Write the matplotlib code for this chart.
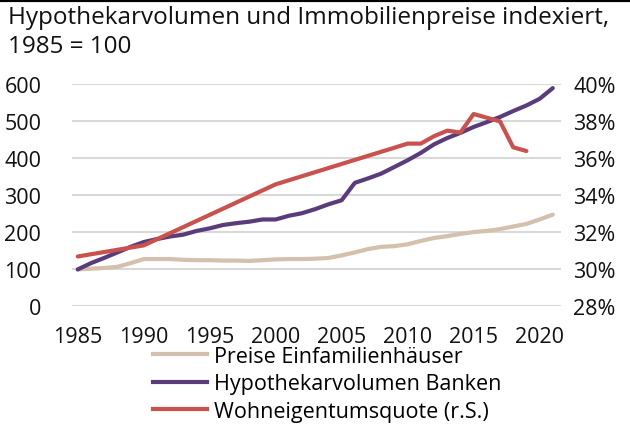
import matplotlib.pyplot as plt
from matplotlib.lines import Line2D

plt.rcParams['font.family'] = ['Open Sans', 'DejaVu Sans']

# Daten
jahre = list(range(1985, 2022))
preise = [100, 102, 104, 107, 117, 128, 128, 128, 126, 125, 125, 124, 124, 123, 125,
          127, 128, 128, 129, 131, 138, 146, 155, 161, 163, 168, 177, 185, 190, 196,
          201, 204, 209, 216, 223, 235, 248]
hypothek = [100, 117, 131, 146, 161, 174, 182, 189, 194, 204, 211, 220, 225, 229, 235,
            235, 245, 252, 263, 276, 287, 334, 346, 359, 377, 395, 415, 438, 455, 469,
            485, 498, 512, 528, 543, 561, 590]
quote_jahre = [1985, 1990, 2000, 2010, 2011, 2012, 2013, 2014, 2015, 2017, 2018, 2019]
quote = [30.7, 31.3, 34.6, 36.8, 36.8, 37.2, 37.5, 37.4, 38.4, 38.0, 36.6, 36.4]

labels = ['Preise Einfamilienhäuser', 'Hypothekarvolumen Banken', 'Wohneigentumsquote (r.S.)']
farben = ['#d3c1ad', '#5a3c7a', '#c9524e']

fig = plt.figure(figsize=(6.3, 4.27), dpi=100)
ax = fig.add_axes([0.114, 0.28, 0.776, 0.52])
ax2 = ax.twinx()

ax.plot(jahre, preise, color=farben[0], lw=3, solid_capstyle='round')
ax.plot(jahre, hypothek, color=farben[1], lw=3, solid_capstyle='round')
ax2.plot(quote_jahre, quote, color=farben[2], lw=3, solid_capstyle='round')

ax.set_xlim(1984.55, 2021.6)
ax.set_ylim(0, 600)
ax2.set_ylim(28, 40)
ax.set_yticks(range(0, 601, 100))
ax2.set_yticks(range(28, 41, 2))
ax2.set_yticklabels([f'{v}%' for v in range(28, 41, 2)])
ax.set_xticks(range(1985, 2021, 5))

ax.grid(axis='y', color='#d9d9d9', lw=1.5)
ax.set_axisbelow(True)
for a in (ax, ax2):
    for s in a.spines.values():
        s.set_visible(False)
    a.tick_params(length=0, labelsize=15.5, colors='#111111')
ax.tick_params(axis='y', pad=22)
ax.tick_params(axis='x', pad=14)
ax2.tick_params(axis='y', pad=9)

fig.text(0.012, 0.985, 'Hypothekarvolumen und Immobilienpreise indexiert,\n1985 = 100',
         fontsize=17.5, va='top', ha='left', color='#111111', linespacing=1.25)
fig.add_artist(Line2D([0, 1], [0.997, 0.997], color='black', lw=3, transform=fig.transFigure))

handles = [Line2D([], [], color=c, lw=3) for c in farben]
fig.legend(handles, labels, loc='upper left', bbox_to_anchor=(0.243, 0.188),
           frameon=False, fontsize=15.5, handlelength=2.5, handletextpad=0.35,
           labelspacing=0.3, borderaxespad=0, borderpad=0)

fig.savefig('out.png', dpi=100)
